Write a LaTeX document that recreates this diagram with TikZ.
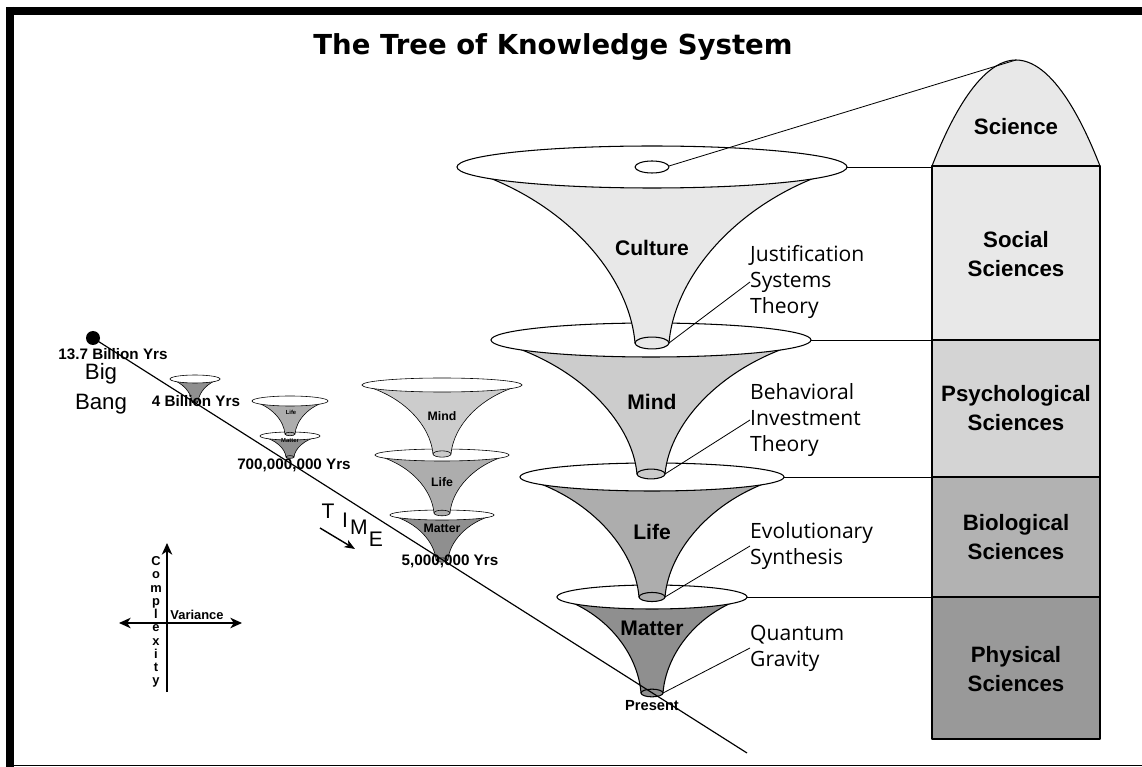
\documentclass[tikz,border=0pt]{standalone}
\usepackage{fontspec}
\setmainfont{Liberation Sans}
\newfontfamily\headfont{DejaVu Sans}
\newfontfamily\notefont{Open Sans}
\usetikzlibrary{arrows.meta}

\begin{document}
\begin{tikzpicture}[x=0.03cm,y=-0.03cm]

\newcommand{\horn}[8]{%
 \filldraw[hornstl,fill=#8] ({#2-#4},#3)
   .. controls ({#2-0.47*#4},{#3+0.16*(#6-#3)}) and ({#2-#7-0.03*#4},{#3+0.6*(#6-#3)}) .. ({#2-#7},#6)
   -- ({#2+#7},#6)
   .. controls ({#2+#7+0.03*#4},{#3+0.6*(#6-#3)}) and ({#2+0.47*#4},{#3+0.16*(#6-#3)}) .. ({#2+#4},#3) -- cycle;
 \filldraw[hornstl,fill=#8] (#2,#6) ellipse [x radius=#7, y radius={0.35*#7}];
 \filldraw[hornstl,fill=white] (#2,#3) ellipse [x radius=#4, y radius=#5];
 \coordinate (#1-tip) at ({#2+#7},#6);
 \coordinate (#1-rim) at ({#2+#4},#3);
}

  \definecolor{culcol}{gray}{0.91}
  \definecolor{mindcol}{gray}{0.80}
  \definecolor{lifecol}{gray}{0.68}
  \definecolor{matcol}{gray}{0.56}
  \definecolor{psycol}{gray}{0.83}
  \definecolor{biocol}{gray}{0.70}
  \definecolor{phycol}{gray}{0.60}

 \tikzset{
      hornstl/.style={line width=0.9pt,line join=round},
      yrstl/.style={font=\bfseries\fontsize{13}{15}\selectfont,inner sep=0,anchor=base},
      lblstl/.style={font=\bfseries\fontsize{18}{22}\selectfont,inner sep=0,anchor=base},
      smlstl/.style={font=\bfseries\fontsize{10.5}{12}\selectfont,inner sep=0,anchor=base},
      notestl/.style={font=\notefont\fontsize{18}{22}\selectfont,align=left,anchor=west,inner sep=0},
      colstl/.style={font=\bfseries\fontsize{19}{24}\selectfont,align=center,inner sep=0},
      timestl/.style={font=\fontsize{18}{20}\selectfont,inner sep=0},
      ptrstl/.style={line width=0.7pt},
      axstl/.style={line width=1pt,>={Stealth[length=10pt,width=9pt,inset=3pt]}},
    }

 \useasboundingbox (0,0) rectangle (1142,767);

 % frame
 \draw[line width=6.5pt] (6,11) -- (1142,11);
 \draw[line width=6.8pt] (10,7) -- (10,767);
 \draw[line width=1.1pt] (10,765.5) -- (1142,765.5);

 \node[font=\headfont\bfseries\fontsize{23.5}{28}\selectfont,anchor=base,inner sep=0]
   (title) at (553,55) {The Tree of Knowledge System};

 \coordinate (colL) at (932,0);
 \coordinate (apex) at (1016,60);

 % the column of sciences
 \filldraw[hornstl,fill=culcol] (932,166) parabola bend (apex) (1100,166) -- cycle;
 \filldraw[hornstl,fill=culcol] (932,166) rectangle (1100,340);
 \filldraw[hornstl,fill=psycol] (932,340) rectangle (1100,477);
 \filldraw[hornstl,fill=biocol] (932,477) rectangle (1100,597);
 \filldraw[hornstl,fill=phycol] (932,597) rectangle (1100,739);

 \node[colstl] (sci) at (1016,127) {Science};
 \node[colstl] (soc) at (1016,254) {Social\\Sciences};
 \node[colstl] (psy) at (1016,408) {Psychological\\Sciences};
 \node[colstl] (bio) at (1016,537) {Biological\\Sciences};
 \node[colstl] (phy) at (1016,669) {Physical\\Sciences};

 % small horns along the time line
 \begin{scope}[hornstl/.append style={line width=0.5pt}]
 \horn{a1}{195}{379}{25}{4}{402}{3}{matcol}
 \horn{b2}{290}{436}{30}{4}{457}{4}{matcol}
 \horn{b1}{290}{401}{38}{5}{434}{5}{lifecol}
 \horn{c3}{442}{515}{52}{5}{560}{6}{matcol}
 \horn{c2}{442}{455}{67}{6}{513}{8}{lifecol}
 \horn{c1}{442}{385}{80}{7}{454}{9}{mindcol}
 \end{scope}

 \node[font=\bfseries\fontsize{5}{6}\selectfont,inner sep=0] (b1l) at (291,412) {Life};
 \node[font=\bfseries\fontsize{5}{6}\selectfont,inner sep=0] (b2l) at (290,441) {Matter};
 \node[smlstl] (c1l) at (442,421) {Mind};
 \node[smlstl] (c2l) at (442,486) {Life};
 \node[smlstl] (c3l) at (442,532) {Matter};

 % big horns
 \horn{mat}{652}{597}{95}{12}{693}{11}{matcol}
 \horn{life}{652}{477}{132}{14}{597}{13}{lifecol}
 \horn{mind}{651}{340}{160}{17}{474}{14}{mindcol}
 \horn{cul}{652}{167}{195}{21}{343}{17}{culcol}
 \filldraw[hornstl,fill=white] (652,167) ellipse [x radius=17, y radius=6];
 \coordinate (eye) at (669,166);

 \node[lblstl] (cull) at (652,256) {Culture};
 \node[lblstl] (mindl) at (652,410) {Mind};
 \node[lblstl] (lifel) at (652,539) {Life};
 \node[lblstl] (matl) at (652,635) {Matter};

 \node[notestl] (jst) at (750,282) {Justification\\Systems\\Theory};
 \node[notestl] (bit) at (750,420) {Behavioral\\Investment\\Theory};
 \node[notestl] (evo) at (750,546) {Evolutionary\\Synthesis};
 \node[notestl] (qg) at (750,648) {Quantum\\Gravity};

 \draw[ptrstl] (cul-tip) -- (jst.west);
 \draw[ptrstl] (mind-tip) -- (bit.west);
 \draw[ptrstl] (life-tip) -- (evo.west);
 \draw[ptrstl] (mat-tip) -- (qg.west);

 \draw[ptrstl] (eye) -- (apex);
 \draw[ptrstl] (cul-rim) -- (cul-rim -| colL);
 \draw[ptrstl] (mind-rim) -- (mind-rim -| colL);
 \draw[ptrstl] (life-rim) -- (life-rim -| colL);
 \draw[ptrstl] (mat-rim) -- (mat-rim -| colL);

 % time line
 \coordinate (start) at (93,338);
 \coordinate (tend) at (747,753);
 \fill (start) circle [radius=7];
 \draw[line width=1pt] (start) -- (tend);

 \node[yrstl] (y137) at (113,360) {13.7 Billion Yrs};
 \node[yrstl] (y4b) at (196,407) {4 Billion Yrs};
 \node[yrstl] (y700) at (294,469) {700,000,000 Yrs};
 \node[yrstl] (y5m) at (450,565) {5,000,000 Yrs};
 \node[yrstl,font=\bfseries\fontsize{12.5}{15}\selectfont] (pres) at (652,710) {Present};

 \node[font=\fontsize{19}{23}\selectfont,anchor=base,inner sep=0] (big) at (101,380) {Big};
 \node[font=\fontsize{19}{23}\selectfont,anchor=base,inner sep=0] (bang) at (101,410) {Bang};

 \node[timestl] (t1) at (328,511) {T};
 \node[timestl] (t2) at (345,520) {I};
 \node[timestl] (t3) at (359,527) {M};
 \node[timestl] (t4) at (376,539) {E};
 \coordinate (ta) at (320,528);
 \coordinate (tb) at (355,549);
 \draw[line width=1.2pt,-{Stealth[length=9pt,width=7pt,inset=2.5pt]}] (ta) -- (tb);

 % complexity / variance axes
 \coordinate (axT) at (167,543);
 \coordinate (axB) at (167,692);
 \coordinate (axL) at (119,623);
 \coordinate (axR) at (242,623);
 \draw[axstl,->] (axB) -- (axT);
 \draw[axstl,<->] (axL) -- (axR);
 \node[font=\bfseries\fontsize{11}{12}\selectfont,anchor=base,inner sep=0] (var) at (197,619) {Variance};
 \node[font=\bfseries\fontsize{11}{11.3}\selectfont,align=center,inner sep=0] (cpx) at (156,622)
   {C\\o\\m\\p\\l\\e\\x\\i\\t\\y};
\end{tikzpicture}
\end{document}
